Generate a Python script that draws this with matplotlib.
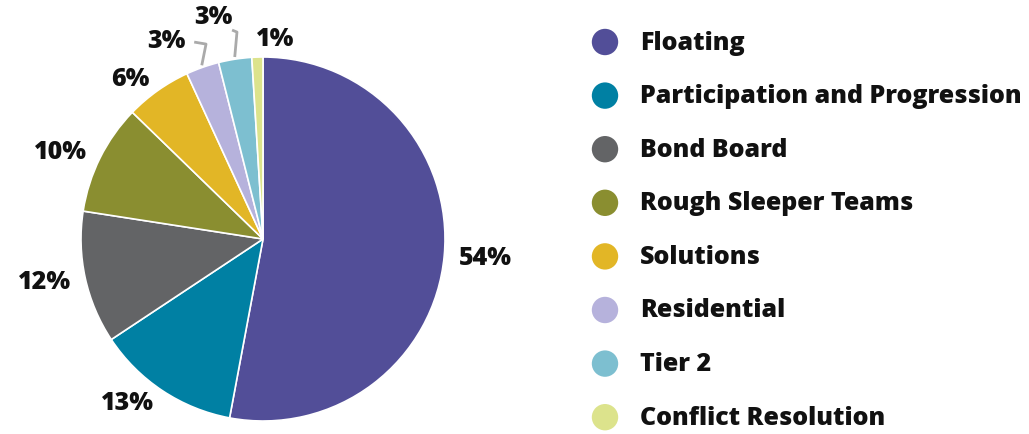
import numpy as np
import matplotlib.pyplot as plt

plt.rcParams['font.family'] = ['Open Sans', 'DejaVu Sans']

# share of cases by team
categories = ['Floating', 'Participation and Progression', 'Bond Board',
              'Rough Sleeper Teams', 'Solutions', 'Residential', 'Tier 2',
              'Conflict Resolution']
shares = [54, 13, 12, 10, 6, 3, 3, 1]
colors = ['#524e98', '#0080a3', '#636466', '#8a8e30', '#e2b626',
          '#b6b2dc', '#7dbfd0', '#dce38c']

W, H = 1029, 435
fig = plt.figure(figsize=(W / 100, H / 100), dpi=100)

# pie axes: centre (263, 240) px, radius 182 px
cx, cy, r = 263, 240, 182
ax = fig.add_axes([(cx - r) / W, (H - cy - r) / H, 2 * r / W, 2 * r / H])
wedges, _ = ax.pie(shares, colors=colors, startangle=90, counterclock=False,
                   radius=1, wedgeprops=dict(edgecolor='white', linewidth=1.2))
ax.set_xlim(-1, 1)
ax.set_ylim(-1, 1)
ax.set_aspect('equal')
ax.axis('off')

lab_kw = dict(fontsize=18, fontweight='heavy', color='#111111')
# thin slices at the top: label position, then leader start/elbow offsets from it
small = {
    5: ((-0.53, 1.088), [(0.152, -0.006), (0.217, -0.017)]),
    6: ((-0.275, 1.22), [(0.105, -0.072), (0.132, -0.083)]),
    7: ((0.066, 1.10), None),
}
for i, (w, v) in enumerate(zip(wedges, shares)):
    ang = np.deg2rad((w.theta1 + w.theta2) / 2)
    x, y = np.cos(ang), np.sin(ang)
    txt = f'{v}%'
    if i in small:
        (tx, ty), leader = small[i]
        ax.text(tx, ty, txt, ha='center', va='center', **lab_kw)
        if leader:
            pts = [(tx + dx, ty + dy) for dx, dy in leader] + [(1.012 * x, 1.012 * y)]
            px, py = zip(*pts)
            ax.plot(px, py, color='#aaaaaa', lw=2, clip_on=False,
                    solid_capstyle='butt', solid_joinstyle='round')
        continue
    ax.text(1.08 * x, 1.08 * y, txt, ha='left' if x > 0 else 'right', va='center', **lab_kw)

# legend drawn as circles + labels
lax = fig.add_axes([0, 0, 1, 1])
lax.set_xlim(0, W)
lax.set_ylim(H, 0)
lax.axis('off')
row0, step = 43, 53.6
for i, (name, c) in enumerate(zip(categories, colors)):
    yy = row0 + i * step
    lax.scatter([605], [yy], s=19 ** 2, color=c, edgecolors='none')
    lax.text(640, yy, name, ha='left', va='center', **lab_kw)

fig.savefig('out.png', dpi=100)
